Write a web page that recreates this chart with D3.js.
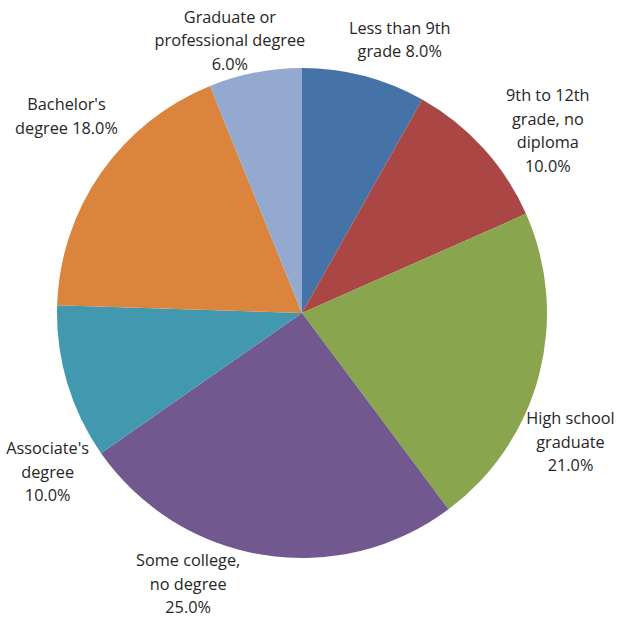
<!DOCTYPE html>
<html>
<head>
<meta charset="utf-8">
<script src="https://cdn.jsdelivr.net/npm/d3@7"></script>
<style>
  html, body { margin: 0; padding: 0; background: #fff; }
  svg { display: block; }
  text { font-family: "Open Sans", Lato, sans-serif; font-size: 16.3px; fill: #262626; }
</style>
</head>
<body>
<svg id="chart" width="627" height="617"></svg>
<script>
// Educational attainment shares (percent)
const categories = [
  "Less than 9th grade",
  "9th to 12th grade, no diploma",
  "High school graduate",
  "Some college, no degree",
  "Associate's degree",
  "Bachelor's degree",
  "Graduate or professional degree"
];
const values = [8.0, 10.0, 21.0, 25.0, 10.0, 18.0, 6.0];
const labelLines = [
  ["Less than 9th", "grade 8.0%"],
  ["9th to 12th", "grade, no", "diploma", "10.0%"],
  ["High school", "graduate", "21.0%"],
  ["Some college,", "no degree", "25.0%"],
  ["Associate's", "degree", "10.0%"],
  ["Bachelor's", "degree 18.0%"],
  ["Graduate or", "professional degree", "6.0%"]
];
const colors = ["#4572A7", "#AA4643", "#89A54E", "#71588F", "#4198AF", "#DB843D", "#93A9CF"];

// Label placement: angular nudge (degrees) and distance from centre
const labelLayout = [
  { shift: 5, dist: 290 },
  { shift: 5.7, dist: 306 },
  { shift: 11, dist: 298 },
  { shift: 13.6, dist: 294 },
  { shift: -15.5, dist: 300 },
  { shift: 5, dist: 307 },
  { shift: -3.8, dist: 282 }
];

const svg = d3.select("#chart");
const cx = 302, cy = 313, radius = 245;
const g = svg.append("g").attr("transform", `translate(${cx},${cy})`);

const pie = d3.pie().sort(null).value(d => d);
const arcs = pie(values);
const arc = d3.arc().innerRadius(0).outerRadius(radius);

g.selectAll("path.slice")
  .data(arcs)
  .join("path")
  .attr("class", "slice")
  .attr("d", arc)
  .attr("fill", (d, i) => colors[i]);

const lineH = 23.5;
arcs.forEach((a, i) => {
  const mid = (a.startAngle + a.endAngle) / 2 + labelLayout[i].shift * Math.PI / 180;
  const x = Math.sin(mid) * labelLayout[i].dist;
  const y = -Math.cos(mid) * labelLayout[i].dist;
  const lines = labelLines[i];
  const t = g.append("text")
    .attr("text-anchor", "middle")
    .attr("x", x)
    .attr("y", y - (lines.length - 1) * lineH / 2)
    .attr("dy", "0.35em");
  lines.forEach((ln, k) => {
    t.append("tspan").attr("x", x).attr("dy", k === 0 ? "0.35em" : lineH).text(ln);
  });
});
</script>
</body>
</html>
